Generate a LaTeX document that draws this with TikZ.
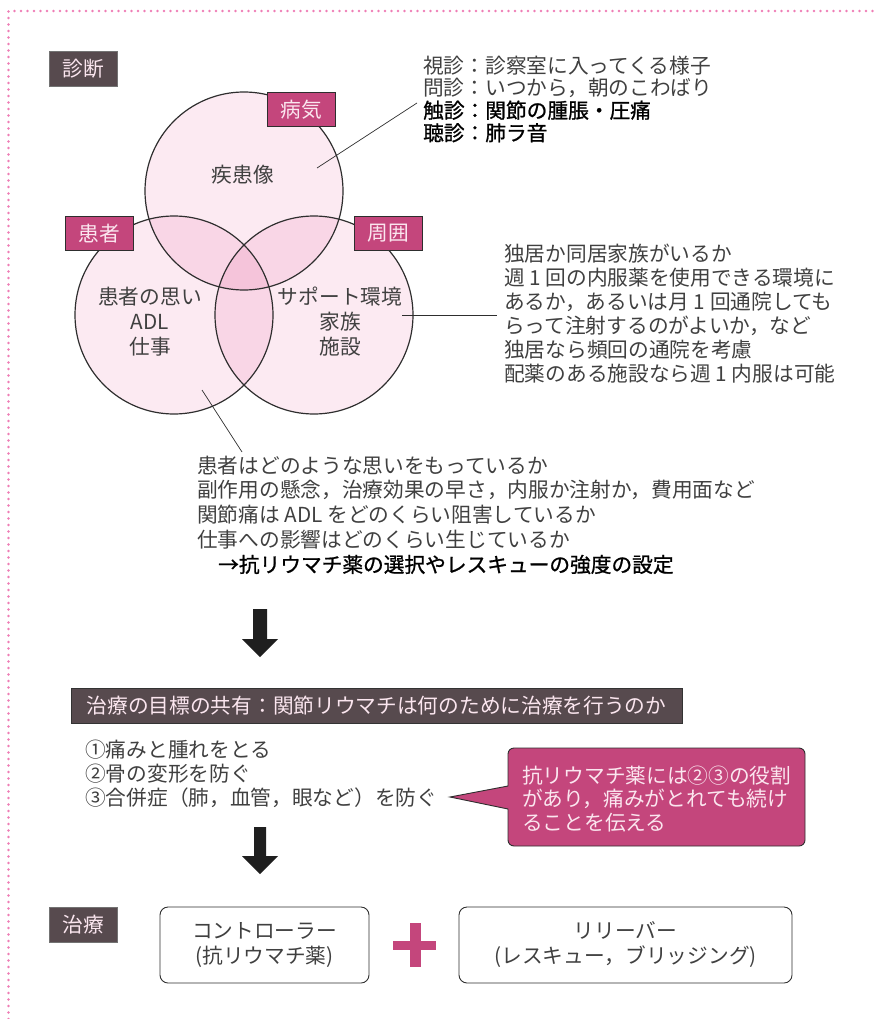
\documentclass[tikz,border=0pt]{standalone}
\usepackage{fontspec}
\setmainfont{Noto Sans CJK JP}
\newfontfamily\jpbold[FakeBold=1.0]{Noto Sans CJK JP}
\newcommand\jfs[1]{\fontsize{20.7}{#1}\selectfont}
\definecolor{cbase}{HTML}{FCEAF2}
\definecolor{cdbl}{HTML}{F9D6E6}
\definecolor{ctri}{HTML}{F5C4DA}
\definecolor{magen}{HTML}{C4467C}
\definecolor{darkbox}{HTML}{574A4E}
\definecolor{tgray}{HTML}{404040}
\definecolor{lighttxt}{HTML}{FBE6EF}
\definecolor{dotpink}{HTML}{EE7DB5}
\definecolor{linegray}{HTML}{2E2E2E}
\begin{document}
\begin{tikzpicture}[x=1pt,y=-1pt,
  txt/.style={font=\jfs{24}, text=tgray, inner sep=0pt, align=left, anchor=north west},
  ctext/.style={font=\jfs{25}, text=tgray, inner sep=0pt, align=center},
  tagbox/.style={fill=magen, draw=linegray, line width=0.8pt, text=lighttxt, font=\jfs{24}, minimum width=68pt, minimum height=34pt, inner sep=0pt},
  headbox/.style={fill=darkbox, draw=black!55, line width=0.8pt, text=lighttxt, font=\jfs{24}, minimum width=68pt, minimum height=35pt, inner sep=0pt},
  treatbox/.style={draw=linegray, line width=0.9pt, rounded corners=8pt, text=tgray, font=\jfs{25}, align=center, minimum height=76pt, inner sep=0pt},
  leader/.style={draw=linegray, line width=0.7pt},
  venn/.style={draw=linegray, line width=1.2pt},
  bigarrow/.style={fill=black!88}
]
\useasboundingbox (0,0) rectangle (877,1019);
% dotted frame
\draw[dotpink, line width=2.8pt, line cap=round, dash pattern=on 0pt off 6.5pt] (8.5,1019) -- (8.5,11) -- (877,11);

% Venn diagram
\fill[cbase] (244,191) circle[radius=99pt];
\fill[cbase] (174,315) circle[radius=99pt];
\fill[cbase] (314,315) circle[radius=99pt];
\begin{scope}
  \clip (244,191) circle[radius=99pt];
  \fill[cdbl] (174,315) circle[radius=99pt];
  \fill[cdbl] (314,315) circle[radius=99pt];
\end{scope}
\begin{scope}
  \clip (174,315) circle[radius=99pt];
  \fill[cdbl] (314,315) circle[radius=99pt];
\end{scope}
\begin{scope}
  \clip (244,191) circle[radius=99pt];
  \clip (174,315) circle[radius=99pt];
  \fill[ctri] (314,315) circle[radius=99pt];
\end{scope}
\draw[venn] (244,191) circle[radius=99pt];
\draw[venn] (174,315) circle[radius=99pt];
\draw[venn] (314,315) circle[radius=99pt];

\node[ctext] (tA) at (243,175) {疾患像};
\node[ctext] (tB) at (150,322) {患者の思い\\ADL\\仕事};
\node[ctext] (tC) at (340,322) {サポート環境\\家族\\施設};

\node[tagbox] (byoki) at (301,109.5) {病気};
\node[tagbox] (kanja) at (99,233.5) {患者};
\node[tagbox] (shui) at (388,233.5) {周囲};
\node[headbox] (shindan) at (83,68.5) {診断};

% text blocks
\node[txt, font=\jfs{22.5}] (shin) at (423,55.5) {視診：診察室に入ってくる様子\\問診：いつから，朝のこわばり\\{\jpbold\color{black}触診：関節の腫脹・圧痛}\\{\jpbold\color{black}聴診：肺ラ音}};
\node[txt, font=\jfs{24}] (env) at (504,243.5) {独居か同居家族がいるか\\週 1 回の内服薬を使用できる環境に\\あるか，あるいは月 1 回通院しても\\らって注射するのがよいか，など\\独居なら頻回の通院を考慮\\配薬のある施設なら週 1 内服は可能};
\node[txt, font=\jfs{24.8}] (pat) at (197,455.5) {患者はどのような思いをもっているか\\副作用の懸念，治療効果の早さ，内服か注射か，費用面など\\関節痛は ADL をどのくらい阻害しているか\\仕事への影響はどのくらい生じているか\\\hspace*{21pt}{\jpbold\color{black}→抗リウマチ薬の選択やレスキューの強度の設定}};

% leader lines
\coordinate (lA1) at (317,168); \coordinate (lA2) at (417,103);
\coordinate (lC1) at (402,315); \coordinate (lC2) at (497,315);
\coordinate (lB1) at (202,390); \coordinate (lB2) at (242,452);
\draw[leader] (lA1) -- (lA2);
\draw[leader] (lC1) -- (lC2);
\draw[leader] (lB1) -- (lB2);

% arrow 1
\fill[bigarrow] (253,609) -- (267,609) -- (267,639) -- (278,639) -- (260,657) -- (242,639) -- (253,639) -- cycle;

% goal banner
\node[fill=darkbox, draw=black!80, line width=0.8pt, text=lighttxt, font=\jfs{24}, minimum width=611pt, minimum height=35pt, inner sep=0pt] (goal) at (376.5,705.5) {治療の目標の共有：関節リウマチは何のために治療を行うのか};

\node[txt, font=\jfs{24}] (items) at (85,739.5) {①痛みと腫れをとる\\②骨の変形を防ぐ\\③合併症（肺，血管，眼など）を防ぐ};

% callout
\draw[fill=magen, draw=linegray, line width=0.9pt, line join=miter] (508,786) -- (450,797) -- (508,809) [rounded corners=6pt] -- (508,846) -- (805,846) -- (805,748) -- (508,748) [sharp corners] -- cycle;
\node[txt, font=\jfs{23.5}, text=lighttxt] (call) at (522,765.5) {抗リウマチ薬には②③の役割\\があり，痛みがとれても続け\\ることを伝える};

% arrow 2
\fill[bigarrow] (254,827) -- (266,827) -- (266,856) -- (278,856) -- (260,874) -- (242,856) -- (254,856) -- cycle;

% treatment
\node[headbox] (chiryo) at (83,924.5) {治療};
\node[treatbox, minimum width=209pt] (ctrl) at (264.5,945) {コントローラー\\(抗リウマチ薬)};
\node[treatbox, minimum width=333pt] (rel) at (625.5,945) {リリーバー\\(レスキュー，ブリッジング)};
\fill[magen] (409.5,923) rectangle (420.5,967);
\fill[magen] (393,940.5) rectangle (436,949.5);
\end{tikzpicture}
\end{document}
